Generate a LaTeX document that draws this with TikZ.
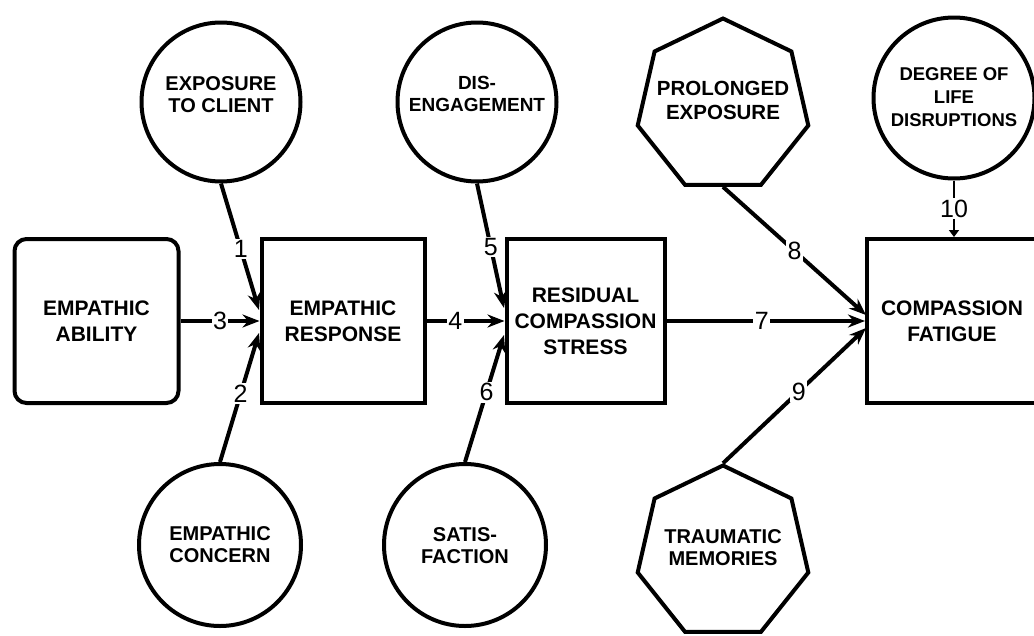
\documentclass[tikz,border=0pt]{standalone}
\usepackage{fontspec}
\setmainfont{Liberation Sans}
\usetikzlibrary{shapes.geometric,arrows.meta}
\begin{document}
\begin{tikzpicture}[x=1pt,y=-1pt,
 box/.style={draw,line width=4pt,minimum width=164pt,minimum height=164pt,inner sep=0pt,align=center,font=\bfseries\fontsize{21}{26}\selectfont},
 circ/.style={draw,circle,line width=4pt,minimum size=159pt,inner sep=0pt},
 hept/.style={draw,regular polygon,regular polygon sides=7,line width=4pt,minimum size=175pt,inner sep=0pt},
 ctext/.style={align=center,font=\bfseries\fontsize{20}{22}\selectfont,inner sep=0pt},
 conn/.style={line width=4pt,-{Stealth[length=17pt,width=13pt]}},
 hconn/.style={line width=3.2pt,-{Stealth[length=17pt,width=13pt]}},
 num/.style={fill=white,inner sep=1.5pt,font=\fontsize{25}{25}\selectfont}
]
\useasboundingbox[fill=white] (0,0) rectangle (1034,635);
% boxes
\node[box,rounded corners=12pt] (abl) at (96.5,321) {EMPATHIC\\ABILITY};
\node[box,minimum width=163pt] (resp) at (343,321) {EMPATHIC\\RESPONSE};
\node[box,minimum width=158pt] (res) at (585.5,321) {RESIDUAL\\COMPASSION\\STRESS};
\node[box,minimum width=170pt] (comp) at (952,321) {COMPASSION\\FATIGUE};
% circles
\node[circ] (exp) at (221,102) {};
\node[ctext] (expT) at (221,95) {EXPOSURE\\TO CLIENT};
\node[circ] (dis) at (477,102) {};
\node[ctext,font=\bfseries\fontsize{19}{22}\selectfont] (disT) at (477,94) {DIS-\\ENGAGEMENT};
\node[circ,minimum size=162pt] (conc) at (220,545) {};
\node[ctext] (concT) at (220,545) {EMPATHIC\\CONCERN};
\node[circ,minimum size=162pt] (sat) at (465,545) {};
\node[ctext] (satT) at (465,546) {SATIS-\\FACTION};
\node[circ,minimum size=161pt] (deg) at (954,98) {};
\node[ctext,font=\bfseries\fontsize{18.5}{23}\selectfont] (degT) at (954,97) {DEGREE OF\\LIFE\\DISRUPTIONS};
% heptagons
\node[hept] (pro) at (723,106) {};
\node[ctext,font=\bfseries\fontsize{20.5}{24}\selectfont] (proT) at (723,100) {PROLONGED\\EXPOSURE};
\node[hept] (tra) at (723,553) {};
\node[ctext] (traT) at (723,548) {TRAUMATIC\\MEMORIES};
% arrow end points
\coordinate (r1) at (259,310);
\coordinate (r2) at (259,333);
\coordinate (s5) at (504,308);
\coordinate (s6) at (504,335);
\coordinate (c8) at (866,315);
\coordinate (c9) at (866,328);
% connectors
\draw[conn] (exp.south) -- node[num,pos=.52]{1} (r1);
\draw[conn] (conc.north) -- node[num,pos=.53]{2} (r2);
\draw[hconn] (abl.east) -- node[num,pos=.5]{3} (resp.west);
\draw[hconn] (resp.east) -- node[num,pos=.37]{4} (res.west);
\draw[conn] (dis.south) -- node[num,pos=.51]{5} (s5);
\draw[conn] (sat.north) -- node[num,pos=.55]{6} (s6);
\draw[hconn] (res.east) -- node[num,pos=.48]{7} (comp.west);
\draw[conn] (pro.south) -- node[num,pos=.5]{8} (c8);
\draw[conn] (tra.north) -- node[num,pos=.53]{9} (c9);
\draw[line width=1.5pt,-{Triangle[length=7pt,width=10pt]}] (deg.south) -- node[num,pos=.5]{10} (deg.south |- comp.north);
\end{tikzpicture}
\end{document}
